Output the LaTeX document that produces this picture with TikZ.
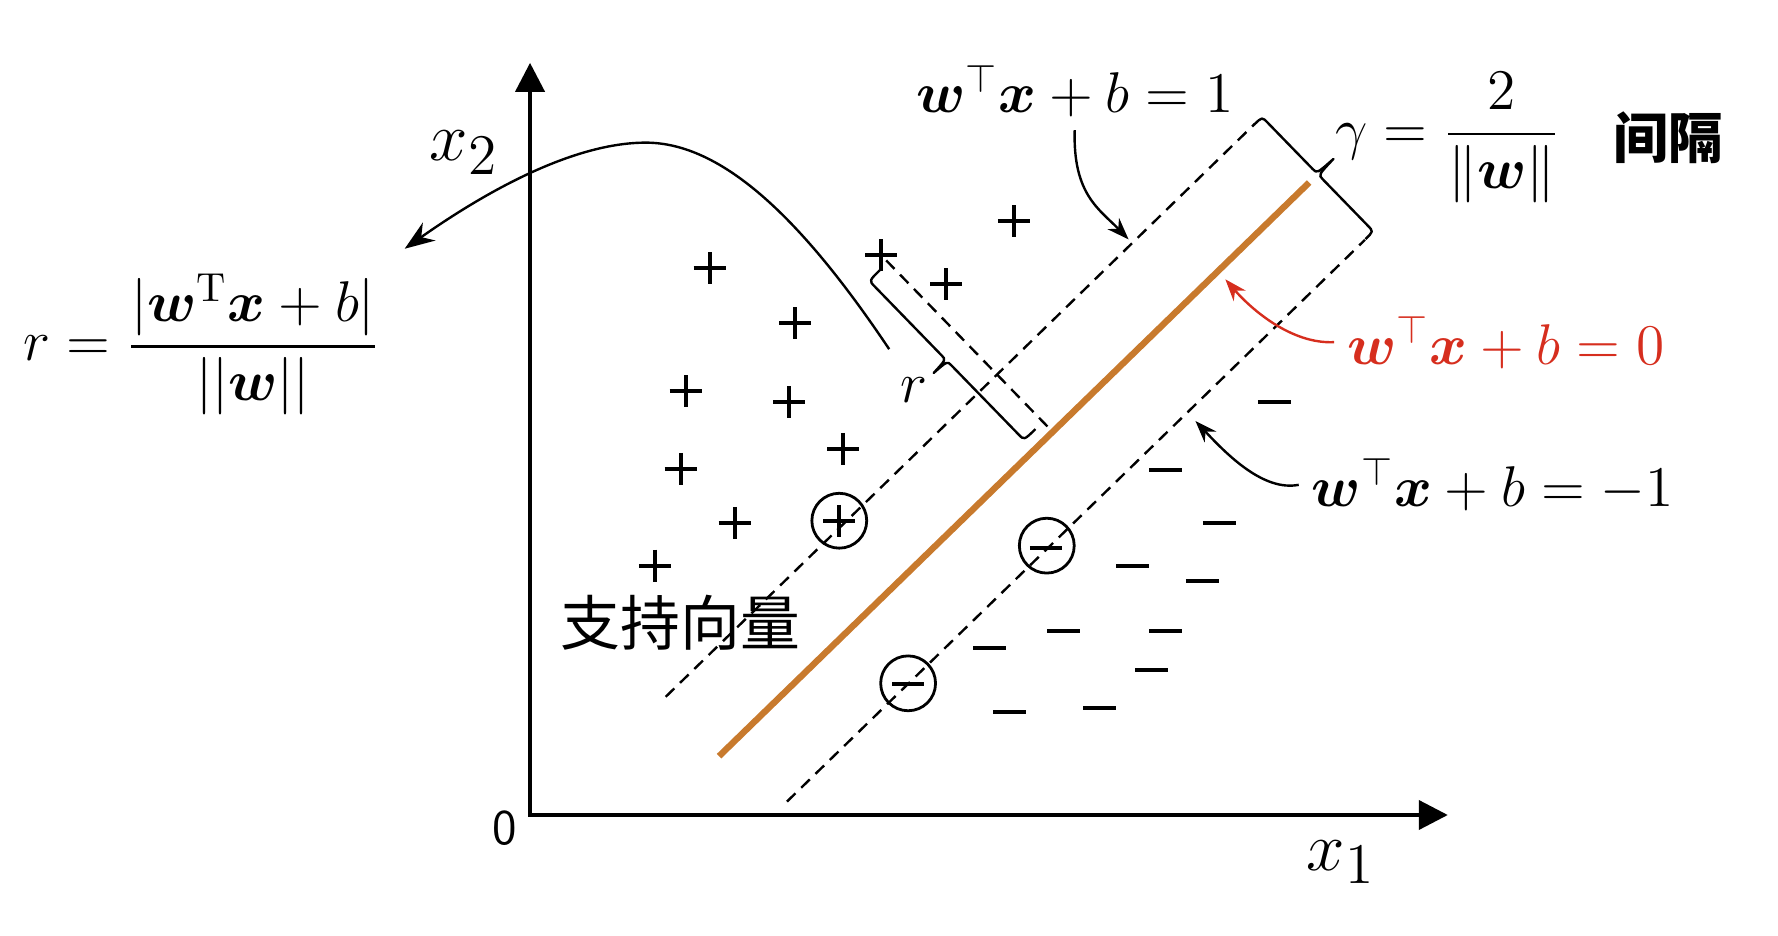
\documentclass[tikz,border=0pt]{standalone}
\usepackage{amsmath}
\usepackage{bm}
\usepackage{fontspec}
\newfontfamily\cjkfont{Noto Sans CJK SC}
\usetikzlibrary{arrows.meta}

\definecolor{planeorange}{RGB}{200,122,45}
\definecolor{planered}{RGB}{214,46,30}

\tikzset{every picture/.style={line width=0.5pt}}
\tikzset{
  mathtxt/.style={font=\fontsize{14.5}{17}\selectfont, inner sep=0.75pt},
  axistxt/.style={font=\fontsize{19}{22}\selectfont, inner sep=0.75pt},
  axis/.style={line width=1pt, arrows={Triangle[length=7.25pt,width=7.25pt]-Triangle[length=7.25pt,width=7.25pt]}},
  margin/.style={line width=0.6pt, dash pattern=on 3pt off 2pt},
  plane/.style={line width=1.6pt, draw=planeorange},
  sign/.style={line width=1pt},
  ring/.style={line width=0.7pt},
  braceline/.style={line width=0.6pt, line join=round},
  pointer/.style={line width=0.6pt, -{Stealth[length=5.5pt,width=4pt]}},
  bigpointer/.style={line width=0.6pt, -{Stealth[length=7.5pt,width=5.5pt]}}
}

\begin{document}
\begin{tikzpicture}[x=0.25pt,y=0.25pt,yscale=-1,xscale=1]
\path (0,0) rectangle (1778,938); %keep the whole frame

%Axes
\draw[axis] (527,63) -- (527,817) -- (1447,817);

%Margin lines and separating plane
\draw[margin] (663,698.5) -- (1253.5,124.2);
\draw[margin] (784.5,803.6) -- (1364,240.4);
\draw[plane] (716.5,758) -- (1308,183);

%Distance r of one sample
\draw[margin] (884,261) -- (1051,433);
\draw[braceline] (878.2,270.3) .. controls (866.8,281.4) .. (872.4,287.1) -- (940,356.7) .. controls (943.8,360.6) .. (931.6,373.9) .. controls (945.2,362) .. (949.1,366) -- (1016.7,435.5) .. controls (1022.2,441.3) .. (1033.6,430.2);

%Brace of the margin
\draw[braceline] (1252.9,124.9) .. controls (1260.8,117.2) .. (1266.4,123) -- (1311.7,169.6) .. controls (1315.9,173.9) .. (1332.4,159.3) .. controls (1317.3,175.3) .. (1321.5,179.6) -- (1366.8,226.2) .. controls (1372.4,232) .. (1364.5,239.7);

%Positive samples
\draw[sign] (691,269) -- (723,269) (707,253) -- (707,285);
\draw[sign] (777,324) -- (809,324) (793,308) -- (793,340);
\draw[sign] (667,392) -- (699,392) (683,376) -- (683,408);
\draw[sign] (771,403) -- (803,403) (787,387) -- (787,419);
\draw[sign] (825,450) -- (857,450) (841,434) -- (841,466);
\draw[sign] (662,470) -- (694,470) (678,454) -- (678,486);
\draw[sign] (716,524) -- (748,524) (732,508) -- (732,540);
\draw[sign] (636,567) -- (668,567) (652,551) -- (652,583);
\draw[sign] (863,256) -- (895,256) (879,240) -- (879,272);
\draw[sign] (928,285) -- (960,285) (944,269) -- (944,301);
\draw[sign] (996,222) -- (1028,222) (1012,206) -- (1012,238);
\draw[sign] (821,522) -- (853,522) (837,506) -- (837,538);
\draw[ring] (837,522) circle (27.5);

%Negative samples
\draw[sign] (1256.5,403) -- (1289.5,403);
\draw[sign] (1147.5,471) -- (1180.5,471);
\draw[sign] (1201.5,524) -- (1234.5,524);
\draw[sign] (1114.5,567) -- (1147.5,567);
\draw[sign] (1184.5,582) -- (1217.5,582);
\draw[sign] (1045.5,633) -- (1078.5,633);
\draw[sign] (1147.5,633) -- (1180.5,633);
\draw[sign] (971.5,650) -- (1004.5,650);
\draw[sign] (1133.5,672) -- (1166.5,672);
\draw[sign] (991.5,714) -- (1024.5,714);
\draw[sign] (1081.5,710) -- (1114.5,710);
\draw[sign] (1028,549) -- (1060,549);
\draw[ring] (1045,547) circle (27.5);
\draw[sign] (890,686) -- (922,686);
\draw[ring] (906,685) circle (27.5);

% Text Node
\node[axistxt] (xtwo) at (461,153) {$x_{2}$};
% Text Node
\node[axistxt] (xone) at (1340,864) {$x_{1}$};
% Text Node
\node[font=\fontsize{12.5}{14}\selectfont\sffamily, inner sep=0.75pt] (orig) at (502,830) {0};
% Text Node
\node[mathtxt] (rsym) at (912,391) {$r$};
% Text Node
\node[mathtxt, inner sep=6pt] (rform) at (198,345) {$r=\dfrac{|\bm{w}^{\mathrm{T}}\bm{x}+b|}{||\bm{w}||}$};
% Text Node
\node[mathtxt, inner sep=3pt] (lblone) at (1073,91) {$\bm{w}^{\top}\bm{x}+b=1$};
% Text Node
\node[mathtxt, inner sep=3pt, text=planered] (lblzero) at (1505,343) {$\bm{w}^{\top}\bm{x}+b=0$};
% Text Node
\node[mathtxt, inner sep=3pt] (lblminus) at (1492,486) {$\bm{w}^{\top}\bm{x}+b=-1$};
% Text Node
\node[mathtxt] (gamma) at (1447,138) {$\gamma=\dfrac{2}{\|\bm{w}\|}$};
% Text Node
\node[font=\fontsize{13.75}{16}\selectfont\cjkfont\bfseries, inner sep=0.75pt] (gaptxt) at (1668,138) {间隔};
% Text Node
\node[font=\fontsize{15}{18}\selectfont\cjkfont, inner sep=0.75pt] (svtxt) at (678,624) {支持向量};

%Arrow ends
\coordinate (onetip) at (1127,240);
\coordinate (zerotip) at (1224,280);
\coordinate (minustip) at (1194,422);
\coordinate (rhook) at (887,350);

%Curve Lines
\draw[pointer] (lblone.south) .. controls (1071,195) and (1098,210) .. (onetip);
\draw[pointer, planered] (lblzero.west) .. controls (1290,345) and (1250,310) .. (zerotip);
\draw[pointer] (lblminus.west) .. controls (1262,493) and (1225,455) .. (minustip);
\draw[bigpointer] (rhook) .. controls (800,220) and (720,143) .. (643,143) .. controls (580,143) and (500,180) .. (rform.north east);

\end{tikzpicture}
\end{document}
